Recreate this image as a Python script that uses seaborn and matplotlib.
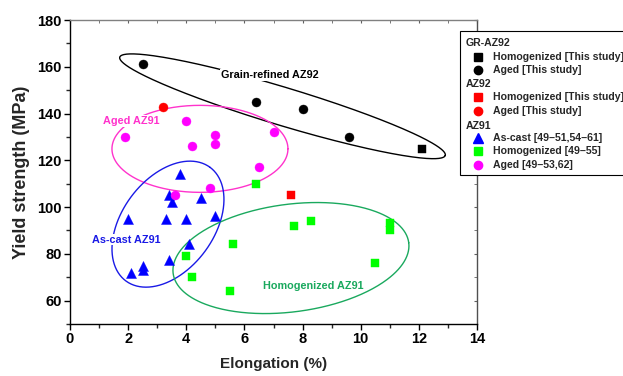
import numpy as np
import pandas as pd
import matplotlib
matplotlib.use("Agg")
import matplotlib.pyplot as plt
import seaborn as sns
from matplotlib.lines import Line2D
from matplotlib.patches import Rectangle
from matplotlib.ticker import MultipleLocator

# ---------------- data ----------------
gr_homog_x = [12.1]
gr_homog_y = [125]
gr_aged_x = [2.5, 6.4, 8.0, 9.6]
gr_aged_y = [161, 145, 142, 130]
az92_homog_x = [7.6]
az92_homog_y = [105]
az92_aged_x = [3.2]
az92_aged_y = [143]
az91_cast_x = [3.8, 3.4, 3.5, 4.5, 2.0, 3.3, 4.0, 5.0, 4.1, 3.4, 2.5, 2.5, 2.1]
az91_cast_y = [114, 105, 102, 104, 95, 95, 95, 96, 84, 77.5, 75, 73, 72]
az91_homog_x = [6.4, 5.6, 4.0, 4.2, 5.5, 7.7, 8.3, 11.0, 11.0, 10.5]
az91_homog_y = [110, 84, 79, 70, 64, 92, 94, 93, 90, 76]
az91_aged_x = [1.9, 4.0, 4.2, 5.0, 5.0, 7.0, 6.5, 4.8, 3.6]
az91_aged_y = [130, 137, 126, 131, 127, 132, 117, 108, 105]

xticks = [0, 2, 4, 6, 8, 10, 12, 14]
yticks = [60, 80, 100, 120, 140, 160, 180]

groups = [
    ("GR-AZ92", "Homogenized [This study]", gr_homog_x, gr_homog_y, "s", "black"),
    ("GR-AZ92", "Aged [This study]", gr_aged_x, gr_aged_y, "o", "black"),
    ("AZ92", "Homogenized [This study]", az92_homog_x, az92_homog_y, "s", "#ff0000"),
    ("AZ92", "Aged [This study]", az92_aged_x, az92_aged_y, "o", "#ff0000"),
    ("AZ91", "As-cast [49\u201351,54\u201361]", az91_cast_x, az91_cast_y, "^", "#0000ff"),
    ("AZ91", "Homogenized [49\u201355]", az91_homog_x, az91_homog_y, "s", "#00ff00"),
    ("AZ91", "Aged [49\u201353,62]", az91_aged_x, az91_aged_y, "o", "#ff00ff"),
]
sizes = {"s": 34, "o": 42, "^": 52}

sns.set_style("ticks")
plt.rcParams["font.family"] = ["Liberation Sans", "DejaVu Sans"]
plt.rcParams["font.weight"] = "bold"

W, H = 623, 376
fig = plt.figure(figsize=(W / 100, H / 100), dpi=100)
ax = fig.add_axes([70 / W, (H - 324) / H, 407 / W, 304 / H])
ax.set_xlim(0, 14)
ax.set_ylim(50, 180)

for grp, lab, xs, ys, mk, col in groups:
    df = pd.DataFrame({"x": xs, "y": ys})
    sns.scatterplot(data=df, x="x", y="y", ax=ax, marker=mk, color=col,
                    s=sizes[mk], edgecolor=col, linewidth=0.3, zorder=5, legend=False)

# ---------------- ellipses (annotation) ----------------
fig.canvas.draw()
bb = ax.get_window_extent()
kx = bb.width / 14.0
ky = bb.height / 130.0

def ellipse(cx, cy, a, b, ang, color, lw=1.0):
    t = np.linspace(0, 2 * np.pi, 400)
    th = np.deg2rad(ang)
    dx = a * np.cos(t) * np.cos(th) - b * np.sin(t) * np.sin(th)
    dy = a * np.cos(t) * np.sin(th) + b * np.sin(t) * np.cos(th)
    ax.plot(cx + dx / kx, cy + dy / ky, color=color, lw=lw, zorder=2)

ellipse(7.31, 143.1, 170, 19, -16.8, "black")
ellipse(4.47, 124.9, 88, 43.5, 0, "#ff33cc")
ellipse(3.37, 92.7, 70.7, 45.9, 53.4, "#1a1ae6")
ellipse(7.6, 78.2, 118.8, 53.8, 7.45, "#1aa95e")

bbox = dict(facecolor="white", edgecolor="none", pad=0.6)
ax.text(6.88, 156.4, "Grain-refined AZ92", color="black", fontsize=7.8,
        fontweight="bold", ha="center", va="center", zorder=3, bbox=bbox)
ax.text(2.1, 136.7, "Aged AZ91", color="#ff33cc", fontsize=7.8,
        fontweight="bold", ha="center", va="center", zorder=3, bbox=bbox)
ax.text(1.93, 86.1, "As-cast AZ91", color="#1a1ae6", fontsize=7.8,
        fontweight="bold", ha="center", va="center", zorder=3, bbox=bbox)
ax.text(8.36, 66.4, "Homogenized AZ91", color="#1aa95e", fontsize=7.8,
        fontweight="bold", ha="center", va="center", zorder=3, bbox=bbox)

# ---------------- axes styling ----------------
ax.set_xticks(xticks)
ax.set_yticks(yticks)
ax.xaxis.set_minor_locator(MultipleLocator(1))
ax.yaxis.set_minor_locator(MultipleLocator(10))
ax.tick_params(axis="both", which="major", direction="out", length=4, width=1,
               labelsize=10.5, pad=2, colors="black")
ax.tick_params(axis="both", which="minor", direction="out", length=3, width=1)
for lab in ax.get_xticklabels() + ax.get_yticklabels():
    lab.set_fontweight("bold")
for s in ["left", "bottom"]:
    ax.spines[s].set_color("black")
    ax.spines[s].set_linewidth(1.0)
ax.spines["top"].set_color("#808080")
ax.spines["right"].set_color("#505050")
ax.spines["top"].set_linewidth(1.0)
ax.spines["right"].set_linewidth(1.0)
ax.set_xlabel("Elongation (%)", fontsize=11, fontweight="bold", labelpad=8)
ax.set_ylabel("Yield strength (MPa)", fontsize=13, fontweight="bold", labelpad=5)

# mirror ticks on top / right
axt = ax.secondary_xaxis("top")
axt.set_xticks(xticks)
axt.xaxis.set_minor_locator(MultipleLocator(1))
axt.tick_params(which="both", direction="in", length=2, color="#606060", labeltop=False)
axt.spines["top"].set_visible(False)
axr = ax.secondary_yaxis("right")
axr.set_yticks(yticks)
axr.yaxis.set_minor_locator(MultipleLocator(10))
axr.tick_params(which="both", direction="in", length=2, color="#606060", labelright=False)
axr.spines["right"].set_visible(False)

# ---------------- legend (manual) ----------------
def fx(px):
    return px / W

def fy(py):
    return 1 - py / H

fig.add_artist(Rectangle((fx(459.5), fy(175)), fx(170), 144.5 / H, transform=fig.transFigure,
                         facecolor="white", edgecolor="black", lw=0.8, zorder=10))
row_y = {"GR-AZ92": [42.7, 56.7, 70.0], "AZ92": [84.0, 97.3, 110.7],
         "AZ91": [126.0, 137.7, 151.0, 165.0]}
seen = {}
for grp, lab, xs, ys, mk, col in groups:
    rows = row_y[grp]
    if grp not in seen:
        seen[grp] = 1
        fig.text(fx(466), fy(rows[0]), grp, fontsize=7.6, fontweight="bold",
                 ha="left", va="center", zorder=11)
    yy = rows[seen[grp]]
    seen[grp] += 1
    fig.add_artist(Line2D([fx(478.3)], [fy(yy)], marker=mk, color=col, linestyle="none",
                          markersize={"s": 5.5, "o": 6, "^": 6.5}[mk],
                          transform=fig.transFigure, zorder=11))
    fig.text(fx(492.7), fy(yy), lab, fontsize=7.6, fontweight="bold",
             ha="left", va="center", zorder=11)

fig.savefig("out.png", dpi=100)
